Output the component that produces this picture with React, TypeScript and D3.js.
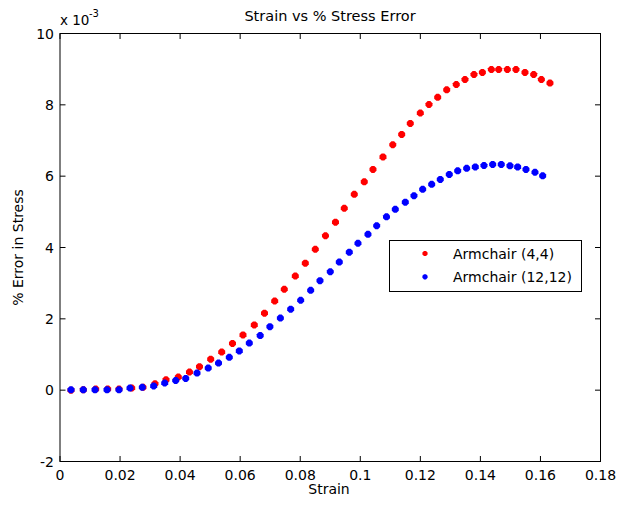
import React from "react";
import * as d3 from "d3";

const title = "Strain vs % Stress Error";
const xLabel = "Strain";
const yLabel = "% Error in Stress";
const xTicks = [0, 0.02, 0.04, 0.06, 0.08, 0.1, 0.12, 0.14, 0.16, 0.18];
const xTickLabels = ["0", "0.02", "0.04", "0.06", "0.08", "0.1", "0.12", "0.14", "0.16", "0.18"];
const yTicks = [-2, 0, 2, 4, 6, 8, 10];
const yTickLabels = ["-2", "0", "2", "4", "6", "8", "10"];
const seriesNames = ["Armchair (4,4)", "Armchair (12,12)"];
const seriesColors = ["#ff0000", "#0000ff"];

// Armchair (4,4): strain, % error (x 10^-3)
const strain44 = [
  0.00366, 0.00776, 0.01189, 0.01588, 0.01965, 0.02388, 0.02764, 0.03164, 0.0353, 0.0394,
  0.04312, 0.04645, 0.05018, 0.05385, 0.05744, 0.06094, 0.0647, 0.0681, 0.0715, 0.07469,
  0.07836, 0.08169, 0.08502, 0.08841, 0.09174, 0.09467, 0.098, 0.10133, 0.10423, 0.10756,
  0.11082, 0.11379, 0.11665, 0.11999, 0.12288, 0.12578, 0.12878, 0.13197, 0.13487, 0.13786,
  0.14066, 0.14366, 0.14609, 0.14898, 0.15185, 0.15485, 0.15775, 0.16031, 0.16317,
];
const error44 = [
  0.0, 0.01, 0.03, 0.03, 0.03, 0.06, 0.08, 0.18, 0.29, 0.37,
  0.51, 0.66, 0.87, 1.07, 1.31, 1.55, 1.83, 2.16, 2.5, 2.83,
  3.2, 3.56, 3.95, 4.33, 4.71, 5.1, 5.49, 5.84, 6.19, 6.54,
  6.88, 7.17, 7.48, 7.77, 8.01, 8.21, 8.42, 8.57, 8.71, 8.85,
  8.91, 8.99, 8.99, 8.99, 8.99, 8.91, 8.85, 8.71, 8.61,
];

// Armchair (12,12): strain, % error (x 10^-3)
const strain1212 = [
  0.00366, 0.00776, 0.01166, 0.01565, 0.01965, 0.02331, 0.02741, 0.0312, 0.03487, 0.03853,
  0.04187, 0.04563, 0.04936, 0.05279, 0.05638, 0.05971, 0.06304, 0.06667, 0.0699, 0.07339,
  0.07682, 0.08015, 0.08348, 0.08658, 0.09001, 0.09301, 0.09634, 0.09923, 0.10256, 0.10546,
  0.10873, 0.11166, 0.11499, 0.11788, 0.12078, 0.12378, 0.12664, 0.12964, 0.13244, 0.13543,
  0.1383, 0.14119, 0.14409, 0.14695, 0.14985, 0.15241, 0.15518, 0.15818, 0.16074,
];
const error1212 = [
  0.01, 0.01, 0.01, 0.01, 0.01, 0.06, 0.08, 0.12, 0.2, 0.27,
  0.33, 0.48, 0.62, 0.76, 0.92, 1.1, 1.32, 1.53, 1.78, 2.02,
  2.27, 2.52, 2.8, 3.07, 3.32, 3.59, 3.87, 4.12, 4.37, 4.61,
  4.86, 5.07, 5.27, 5.45, 5.63, 5.77, 5.91, 6.05, 6.15, 6.22,
  6.26, 6.3, 6.33, 6.33, 6.29, 6.26, 6.19, 6.11, 6.01,
];

const W = 617;
const H = 508;
const left = 60;
const right = 600.5;
const top = 33.5;
const bottom = 461.5;
const FONT = "'DejaVu Sans', sans-serif";

function markerPath(cx: number, cy: number, r: number) {
  const t = r * 0.38;
  return `M${cx - t},${cy - r}L${cx + t},${cy - r}L${cx + r},${cy - t}L${cx + r},${cy + t}L${cx + t},${cy + r}L${cx - t},${cy + r}L${cx - r},${cy + t}L${cx - r},${cy - t}Z`;
}

export default function App() {
  const x = d3.scaleLinear().domain([0, 0.18]).range([left, right]);
  const y = d3.scaleLinear().domain([-2, 10]).range([bottom, top]);
  const series = [
    { xs: strain44, ys: error44 },
    { xs: strain1212, ys: error1212 },
  ];
  const tl = 5.5;
  return (
    <svg
      width={W}
      height={H}
      style={{ position: "absolute", left: 0, top: 0, background: "#fff" }}
      fontFamily={FONT}
    >
      <rect x={0} y={0} width={W} height={H} fill="#fff" />
      <rect x={left} y={top} width={right - left} height={bottom - top} fill="#fff" stroke="#000" strokeWidth={1} />
      {xTicks.map((t, i) => (
        <g key={"xt" + i}>
          <line x1={x(t)} x2={x(t)} y1={bottom} y2={bottom - tl} stroke="#000" />
          <line x1={x(t)} x2={x(t)} y1={top} y2={top + tl} stroke="#000" />
          <text x={x(t)} y={480} fontSize={14} textAnchor="middle" fill="#000">
            {xTickLabels[i]}
          </text>
        </g>
      ))}
      {yTicks.map((t, i) => (
        <g key={"yt" + i}>
          <line x1={left} x2={left + tl} y1={y(t)} y2={y(t)} stroke="#000" />
          <line x1={right} x2={right - tl} y1={y(t)} y2={y(t)} stroke="#000" />
          <text x={54} y={y(t) + 5} fontSize={14} textAnchor="end" fill="#000">
            {yTickLabels[i]}
          </text>
        </g>
      ))}
      <text x={60} y={25} fontSize={13.5} fill="#000">
        x 10
      </text>
      <text x={89} y={17} fontSize={10} fill="#000">
        -3
      </text>
      {series.map((s, si) => (
        <g key={"s" + si} fill={seriesColors[si]}>
          {s.xs.map((xv, i) => (
            <path key={i} d={markerPath(x(xv), y(s.ys[i]), 3.5)} />
          ))}
        </g>
      ))}
      <text x={330} y={21} fontSize={14.5} textAnchor="middle" fill="#000">
        {title}
      </text>
      <text x={329} y={494} fontSize={14} textAnchor="middle" fill="#000">
        {xLabel}
      </text>
      <text
        transform={`translate(23,${(top + bottom) / 2}) rotate(-90)`}
        fontSize={14}
        textAnchor="middle"
        fill="#000"
      >
        {yLabel}
      </text>
      <rect x={389.5} y={240.5} width={192} height={51} fill="#fff" stroke="#000" strokeWidth={1} />
      {seriesNames.map((n, i) => (
        <g key={"lg" + i}>
          <path d={markerPath(425, 253.5 + i * 23.3, 2.6)} fill={seriesColors[i]} />
          <text x={453} y={258.5 + i * 23.3} fontSize={14} fill="#000">
            {n}
          </text>
        </g>
      ))}
    </svg>
  );
}
